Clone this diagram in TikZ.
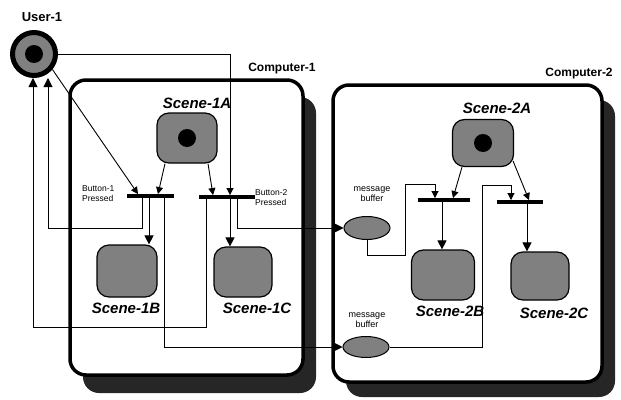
\documentclass[tikz,border=0pt]{standalone}
\usepackage{fontspec}
\setmainfont{Liberation Sans}
\usetikzlibrary{arrows.meta,shapes.geometric}
\begin{document}
\begin{tikzpicture}[x=1pt,y=-1pt,
  conn/.style={line width=0.9pt},
  arr/.style={conn,-{Triangle[length=9pt,width=9pt]}},
  sarr/.style={conn,-{Triangle[length=7pt,width=7pt]}},
  scene/.style={draw=black,line width=1.2pt,fill=black!50,rounded corners=12pt,inner sep=0},
  bar/.style={fill=black,minimum height=3.5pt,inner sep=0},
  buffer/.style={ellipse,draw=black,line width=1pt,fill=black!50,minimum width=46pt,minimum height=23pt,inner sep=0},
  comp/.style={draw=black,line width=3.5pt,fill=white,rounded corners=16pt},
  compshadow/.style={fill=black!85,rounded corners=16pt},
  sname/.style={font=\bfseries\itshape\fontsize{15}{15}\selectfont,inner sep=0},
  cname/.style={font=\bfseries\fontsize{12}{12}\selectfont,inner sep=0},
  small/.style={font=\fontsize{8.5}{10}\selectfont,inner sep=0},
  blackdot/.style={circle,fill=black,inner sep=0,minimum size=18pt}
]
\useasboundingbox (0,0) rectangle (621,399);

% computers
\fill[compshadow] (83,97) rectangle (316,393);
\draw[comp] (70,80) rectangle (303,375);
\fill[compshadow] (346,100) rectangle (615,397);
\draw[comp] (333,85) rectangle (602,382);
\node[cname] (c1) at (282,69) {Computer-1};
\node[cname] (c2) at (579,74) {Computer-2};

% user
\node[font=\bfseries\fontsize{13}{13}\selectfont,inner sep=0] (ulabel) at (42,17) {User-1};
\node[circle,draw=black,line width=5pt,fill=black!50,minimum size=43pt,inner sep=0] (user) at (34,54) {};
\node[blackdot] (udot) at (user) {};

% scenes
\node[scene,minimum width=60pt,minimum height=50pt] (s1a) at (187,138) {};
\node[blackdot] (d1a) at (s1a) {};
\node[scene,minimum width=60pt,minimum height=52pt] (s1b) at (127,271) {};
\node[scene,minimum width=58pt,minimum height=50pt] (s1c) at (243,272) {};
\node[scene,minimum width=61pt,minimum height=47pt] (s2a) at (483,143) {};
\node[blackdot] (d2a) at (s2a) {};
\node[scene,minimum width=63pt,minimum height=50pt] (s2b) at (443,275) {};
\node[scene,minimum width=58pt,minimum height=48pt] (s2c) at (540,276) {};

\node[sname] (l1a) at (197,103) {Scene-1A};
\node[sname] (l1b) at (126,308) {Scene-1B};
\node[sname] (l1c) at (257,308) {Scene-1C};
\node[sname] (l2a) at (497,108) {Scene-2A};
\node[sname] (l2b) at (450,311) {Scene-2B};
\node[sname] (l2c) at (554,313) {Scene-2C};

% bars
\node[bar,minimum width=47pt] (b1) at (150,196) {};
\node[bar,minimum width=56pt] (b2) at (227,197) {};
\node[bar,minimum width=52pt] (b3) at (444,200) {};
\node[bar,minimum width=46pt] (b4) at (520,202) {};

\node[small,anchor=west,align=left] (bt1) at (82,194) {Button-1\\Pressed};
\node[small,anchor=west,align=left] (bt2) at (255,198) {Button-2\\Pressed};

% buffers
\node[buffer] (m1) at (367,228) {};
\node[buffer,minimum height=21pt] (m2) at (366,347) {};
\node[small,align=center,font=\fontsize{9}{10}\selectfont] (ml1) at (372,194) {message\\buffer};
\node[small,align=center,font=\fontsize{9}{10}\selectfont] (ml2) at (367,320) {message\\buffer};

% bend points
\coordinate (k1) at (48,228);
\coordinate (k2) at (33,327);
\coordinate (k3) at (367,255);
\coordinate (k4) at (405,184);
\coordinate (k5) at (482,185);

% connectors computer-1
\draw[sarr] (user.-40) -- (b1.north -| 138,0);
\draw[sarr] (user.east) -| (b2.north -| 230,0);
\draw[sarr] (s1a.south -| 165,0) -- (b1.north -| 158,0);
\draw[sarr] (s1a.south -| 208,0) -- (b2.north -| 213,0);
\draw[arr] (b1.south -| 149,0) -- (s1b.north -| 149,0);
\draw[arr] (b2.south -| 230,0) -- (s1c.north -| 230,0);
\draw[arr] (b1.south -| 142,0) |- (k1) -- (user.south -| k1);
\draw[arr] (b2.south -| 206,0) |- (k2) -- (user.south -| k2);
\draw[arr] (b1.south -| 164,0) |- (m2.west);
\draw[arr] (b2.south -| 237,0) |- (m1.west);

% connectors computer-2
\draw[sarr] (m1.south) -- (k3) -| (k4) -| (b3.north -| 435,0);
\draw[sarr] (m2.east) -| (k5) -| (b4.north -| 511,0);
\draw[sarr] (s2a.south -| 462,0) -- (b3.north -| 453,0);
\draw[sarr] ([shift={(-1,-6)}]s2a.south east) -- (b4.north -| 529,0);
\draw[arr] (b3.south -| 442,0) -- (s2b.north -| 442,0);
\draw[arr] (b4.south -| 527,0) -- (s2c.north -| 527,0);
\end{tikzpicture}
\end{document}
